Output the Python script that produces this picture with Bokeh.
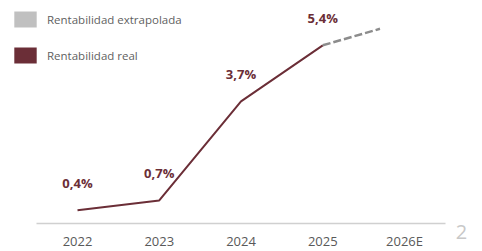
from bokeh.plotting import figure
from bokeh.models import ColumnDataSource, Range1d, FixedTicker, Legend, LegendItem, Label
from bokeh.embed import file_html
from bokeh.resources import INLINE
from bokeh.core.properties import value

# ---- data ----
years = ["2022", "2023", "2024", "2025", "2026E"]
real_x = [0, 1, 2, 3]
real_vals = [0.4, 0.7, 3.7, 5.4]
real_labels = ["0,4%", "0,7%", "3,7%", "5,4%"]
ext_x = [3, 3.7]
ext_vals = [5.4, 5.9]
series_names = ["Rentabilidad extrapolada", "Rentabilidad real"]
page_number = "2"

MAROON = "#6b2e37"
GRAY_SQ = "#c0c0c0"
DASH_GRAY = "#8c8c8c"
TEXT_GRAY = "#5f5f5f"
FONT = "Open Sans"
NAN = float("nan")

W, H = 482, 251
p = figure(width=W, height=H, output_backend="svg", toolbar_location=None,
           x_range=Range1d(-0.942, 4.954), y_range=Range1d(-0.848, 6.758),
           min_border_left=0, min_border_right=0, min_border_top=0, min_border_bottom=0,
           y_axis_location=None, outline_line_color=None, background_fill_color="white",
           border_fill_color="white")
p.grid.visible = False

ax = p.xaxis[0]
ax.fixed_location = 0
ax.bounds = (-0.5, len(years) - 0.5)
ax.ticker = FixedTicker(ticks=list(range(len(years))))
ax.major_label_overrides = {i: y for i, y in enumerate(years)}
ax.major_tick_line_color = None
ax.minor_tick_line_color = None
ax.major_tick_out = 0
ax.minor_tick_out = 0
ax.major_tick_in = 0
ax.axis_line_color = "#d0d0d0"
ax.axis_line_width = 1.5
ax.major_label_text_font = FONT
ax.major_label_text_font_size = "13px"
ax.major_label_text_color = "#595959"
ax.major_label_standoff = 8

real_src = ColumnDataSource(dict(x=real_x, y=real_vals, t=real_labels))
p.line("x", "y", source=real_src, line_color=MAROON, line_width=2)
p.line(ext_x, ext_vals, line_color=DASH_GRAY, line_width=2.5, line_dash="8 3")
p.text("x", "y", text="t", source=real_src, y_offset=-27, text_align="center",
       text_baseline="middle", text_font=value(FONT), text_font_style="bold",
       text_font_size="13px", text_color=MAROON)

r_ext = p.quad(left=[NAN], right=[NAN], top=[NAN], bottom=[NAN], fill_color=GRAY_SQ, line_color=None)
r_real = p.quad(left=[NAN], right=[NAN], top=[NAN], bottom=[NAN], fill_color=MAROON, line_color=None)
legend = Legend(items=[LegendItem(label=series_names[0], renderers=[r_ext]),
                       LegendItem(label=series_names[1], renderers=[r_real])],
                location=(11, 186), glyph_width=28, glyph_height=20, spacing=16,
                padding=0, margin=0, border_line_color=None, background_fill_alpha=0,
                label_standoff=8, label_text_font=FONT, label_text_font_size="11.5px",
                label_text_color=TEXT_GRAY, label_text_baseline="middle")
p.add_layout(legend)

p.add_layout(Label(x=len(years) - 0.5, y=0, x_units="data", y_units="data", x_offset=16, y_offset=-8,
                   text=page_number, text_font=FONT, text_font_size="20px",
                   text_color="#c8c8c8", text_align="center", text_baseline="middle"))

open("out.html", "w").write(file_html(p, INLINE))
